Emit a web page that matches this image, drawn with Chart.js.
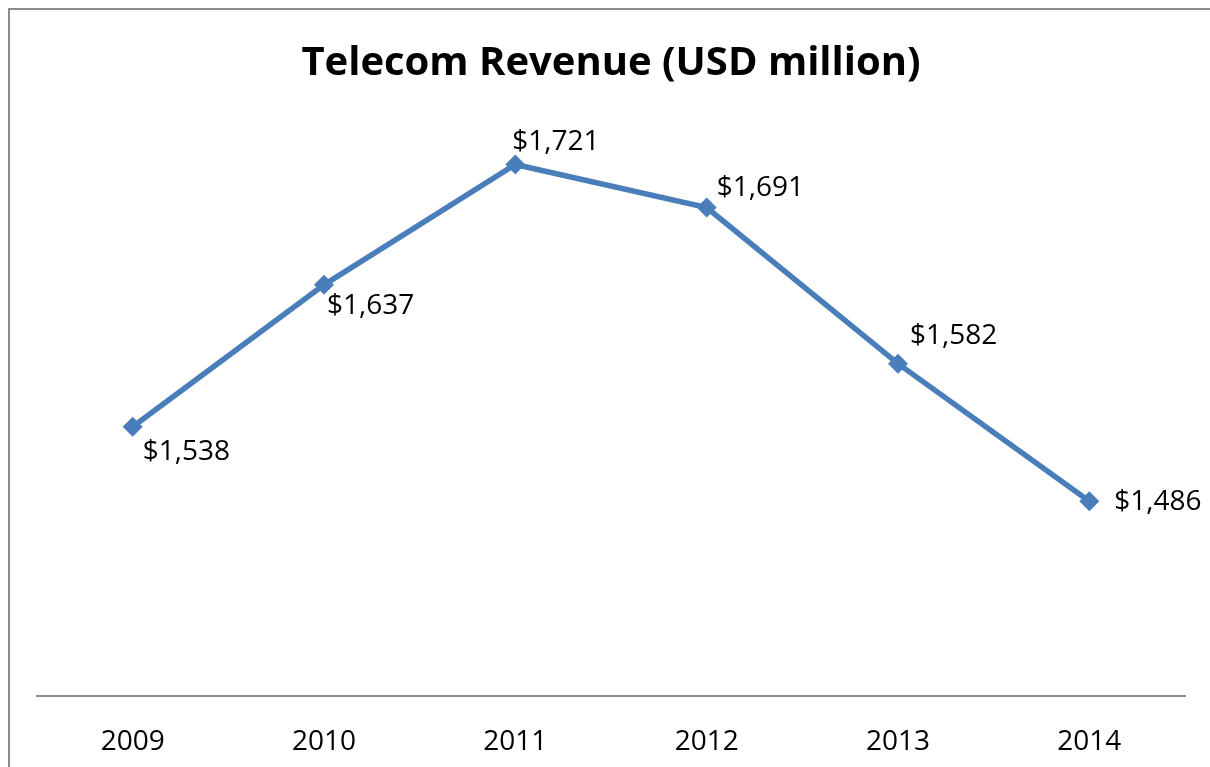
<!DOCTYPE html>
<html>
<head>
<meta charset="utf-8">
<script src="https://cdn.jsdelivr.net/npm/chart.js@4/dist/chart.umd.min.js"></script>
<style>
  html, body { margin: 0; padding: 0; background: #fff; }
  #frame {
    position: absolute; left: 8px; top: 8px; width: 1210px; height: 800px;
    border-left: 2px solid #8c8c8c; border-top: 2px solid #8c8c8c;
  }
  #wrap { position: absolute; left: 0; top: 0; width: 1210px; height: 767px; }
</style>
</head>
<body>
<div id="frame"></div>
<div id="wrap"><canvas id="myChart"></canvas></div>
<script>
/* dados do grafico */
const years = ['2009', '2010', '2011', '2012', '2013', '2014'];
const revenue = [1538, 1637, 1721, 1691, 1582, 1486];
const yMin = 1350;
const yMax = 1750;

/* deslocamento de cada rotulo em relacao ao ponto */
const labelOffsets = [
  [10, 25], [3, 21], [-3, -23], [10, -19], [12, -28], [25, 1]
];

const fmt = v => '$' + v.toLocaleString('en-US');

const valueLabels = {
  id: 'valueLabels',
  afterDatasetsDraw(chart) {
    const ctx = chart.ctx;
    const meta = chart.getDatasetMeta(0);
    ctx.save();
    ctx.font = '28px "Open Sans"';
    ctx.fillStyle = '#000';
    ctx.textAlign = 'left';
    ctx.textBaseline = 'middle';
    meta.data.forEach((pt, i) => {
      const off = labelOffsets[i];
      ctx.fillText(fmt(revenue[i]), pt.x + off[0], pt.y + off[1]);
    });
    ctx.restore();
  }
};

const config = {
  type: 'line',
  data: {
    labels: years,
    datasets: [{
      label: 'Revenue',
      data: revenue,
      borderColor: '#4a7ebb',
      backgroundColor: '#4a7ebb',
      borderWidth: 5.5,
      pointStyle: 'rectRot',
      pointRadius: 10,
      pointBorderWidth: 0,
      tension: 0
    }]
  },
  options: {
    responsive: false,
    animation: false,
    layout: { padding: { left: 37, right: 25, top: 0, bottom: 0 } },
    plugins: {
      legend: { display: false },
      tooltip: { enabled: false },
      title: {
        display: true,
        text: 'Telecom Revenue (USD million)',
        color: '#000',
        font: { family: '"Open Sans"', size: 40, weight: 'bold' },
        padding: { top: 40, bottom: 35 }
      }
    },
    scales: {
      x: {
        offset: true,
        grid: { display: false, drawTicks: false },
        border: { display: true, color: '#8c8c8c', width: 2 },
        ticks: {
          color: '#000',
          font: { family: '"Open Sans"', size: 28 },
          padding: 29
        },
        afterFit(scale) { scale.height = 71; }
      },
      y: {
        display: false,
        min: yMin,
        max: yMax
      }
    }
  },
  plugins: [valueLabels]
};

const canvas = document.getElementById('myChart');
canvas.width = 1210;
canvas.height = 767;
const myChart = new Chart(canvas, config);
</script>
</body>
</html>
